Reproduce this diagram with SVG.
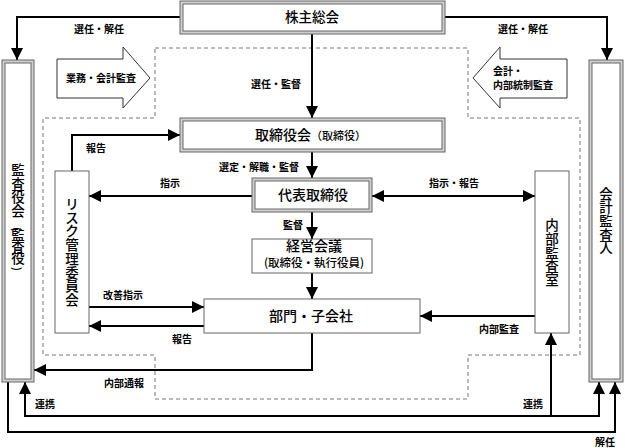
<svg xmlns="http://www.w3.org/2000/svg" width="625" height="448" viewBox="0 0 625 448">
<style>
text{font-family:"Noto Sans CJK JP","Noto Sans",sans-serif;fill:#000}
.lbl{font-size:10px;font-weight:bold}
.main{font-size:13.5px}
.vt{font-size:13.5px;font-weight:500;text-anchor:middle}
.out{fill:#d0d0d0;stroke:#666;stroke-width:1}
.in{fill:#fff;stroke:#666;stroke-width:1}
.box{fill:#fff;stroke:#666;stroke-width:1}
.ln{fill:none;stroke:#000;stroke-width:2}
.dash{fill:none;stroke:#777;stroke-width:1;stroke-dasharray:4 3}
.blk{fill:#fff;stroke:#333;stroke-width:1}
</style>
<defs>
<marker id="ah" viewBox="0 0 12 12" refX="12" refY="6" markerWidth="12" markerHeight="12" markerUnits="userSpaceOnUse" orient="auto-start-reverse">
<path d="M0,0 L12,6 L0,12 Z" fill="#000"/>
</marker>
</defs>

<path id="boundary" class="dash" d="M155,48 H468 V118 H580 V355 H468 V399 H155 V355 H43 V118 H155 Z"/>

<g id="audit-arrow-left">
<polygon class="blk" points="57,59 123,59 123,47 150,78 123,108 123,98 57,98"/>
<text class="lbl" x="101" y="82" text-anchor="middle">業務・会計監査</text>
</g>
<g id="audit-arrow-right">
<polygon class="blk" points="567,59 500,59 500,47 473,78 500,108 500,98 567,98"/>
<text class="lbl"><tspan x="493" y="75">会計・</tspan><tspan x="493" y="89">内部統制監査</tspan></text>
</g>

<g id="connectors">
<path class="ln" d="M180,17 H17 V60" marker-end="url(#ah)"/>
<path class="ln" d="M445,17 H607 V60" marker-end="url(#ah)"/>
<path class="ln" d="M312,34 V118" marker-end="url(#ah)"/>
<path class="ln" d="M312,152 V178" marker-end="url(#ah)"/>
<path class="ln" d="M312,212 V239" marker-end="url(#ah)"/>
<path class="ln" d="M312,273 V299" marker-end="url(#ah)"/>
<path class="ln" d="M252,196 H89" marker-end="url(#ah)"/>
<path class="ln" d="M72,171 V135 H180" marker-end="url(#ah)"/>
<path class="ln" d="M372,196 H535" marker-start="url(#ah)" marker-end="url(#ah)"/>
<path class="ln" d="M89,307 H204" marker-end="url(#ah)"/>
<path class="ln" d="M204,326 H89" marker-end="url(#ah)"/>
<path class="ln" d="M535,316 H420" marker-end="url(#ah)"/>
<path class="ln" d="M312,333 V370 H34" marker-end="url(#ah)"/>
<path class="ln" d="M551,416 H25 V382" marker-end="url(#ah)"/>
<path class="ln" d="M551,416 H599 V382" marker-end="url(#ah)"/>
<path class="ln" d="M551,416 V333" marker-end="url(#ah)"/>
<path class="ln" d="M8,382 V432 H615 V382" marker-end="url(#ah)"/>

<text class="lbl" x="99" y="33" text-anchor="middle">選任・解任</text>
<text class="lbl" x="523" y="33" text-anchor="middle">選任・解任</text>
<text class="lbl" x="276" y="88" text-anchor="middle">選任・監督</text>
<text class="lbl" x="96" y="152" text-anchor="middle">報告</text>
<text class="lbl" x="259" y="171" text-anchor="middle">選定・解職・監督</text>
<text class="lbl" x="170" y="187" text-anchor="middle">指示</text>
<text class="lbl" x="454" y="187" text-anchor="middle">指示・報告</text>
<text class="lbl" x="293" y="229" text-anchor="middle">監督</text>
<text class="lbl" x="123" y="299" text-anchor="middle">改善指示</text>
<text class="lbl" x="182" y="343" text-anchor="middle">報告</text>
<text class="lbl" x="499" y="333" text-anchor="middle">内部監査</text>
<text class="lbl" x="124" y="387" text-anchor="middle">内部通報</text>
<text class="lbl" x="45" y="408" text-anchor="middle">連携</text>
<text class="lbl" x="533" y="408" text-anchor="middle">連携</text>
<text class="lbl" x="605" y="446" text-anchor="middle">解任</text>
</g>

<g id="shareholders">
<rect class="out" x="180" y="1" width="265" height="33"/>
<rect class="in" x="183" y="4" width="259" height="27"/>
<text class="main" x="312" y="22" text-anchor="middle" font-weight="500">株主総会</text>
</g>

<g id="board">
<rect class="out" x="180" y="118" width="265" height="34"/>
<rect class="in" x="183" y="121" width="259" height="28"/>
<text x="255" y="140" font-weight="500"><tspan font-size="14">取締役会</tspan><tspan font-size="11">（取締役）</tspan></text>
</g>

<g id="representative">
<rect class="out" x="252" y="178" width="120" height="34"/>
<rect class="in" x="255" y="181" width="114" height="28"/>
<text x="313" y="200" font-size="14" font-weight="500" text-anchor="middle">代表取締役</text>
</g>

<g id="management-meeting">
<rect class="box" x="252" y="239" width="120" height="34"/>
<text font-weight="500" text-anchor="middle"><tspan x="314" y="251" font-size="14">経営会議</tspan><tspan x="314" y="267" font-size="11.5">(取締役・執行役員)</tspan></text>
</g>

<g id="departments">
<rect class="box" x="204" y="299" width="216" height="34"/>
<text x="311" y="321" font-size="14" font-weight="500" text-anchor="middle">部門・子会社</text>
</g>

<g id="risk-committee">
<rect class="box" x="55" y="171" width="34" height="162"/>
<text class="vt"><tspan x="72" y="209">リ</tspan><tspan x="72" y="222.6">ス</tspan><tspan x="72" y="236.4">ク</tspan><tspan x="72" y="250">管</tspan><tspan x="72" y="263.9">理</tspan><tspan x="72" y="277.6">委</tspan><tspan x="72" y="291.4">員</tspan><tspan x="72" y="305">会</tspan></text>
</g>

<g id="internal-audit">
<rect class="box" x="535" y="171" width="34" height="162"/>
<text class="vt"><tspan x="552" y="230">内</tspan><tspan x="552" y="243.7">部</tspan><tspan x="552" y="257.5">監</tspan><tspan x="552" y="271.3">査</tspan><tspan x="552" y="285">室</tspan></text>
</g>

<g id="auditors-board">
<rect class="out" x="2" y="60" width="32" height="322"/>
<rect class="in" x="5" y="63" width="26" height="316"/>
<text class="vt"><tspan x="18" y="175">監</tspan><tspan x="18" y="188.5">査</tspan><tspan x="18" y="202">役</tspan><tspan x="18" y="215.5">会</tspan></text>
<text font-size="11" font-weight="500" text-anchor="middle" dominant-baseline="central" transform="rotate(90 18 229)" x="18" y="229">(</text>
<text class="vt" font-size="10.5"><tspan x="18" y="240">監</tspan><tspan x="18" y="251.5">査</tspan><tspan x="18" y="263">役</tspan></text>
<text font-size="11" font-weight="500" text-anchor="middle" dominant-baseline="central" transform="rotate(90 18 269)" x="18" y="269">)</text>
</g>

<g id="accounting-auditor">
<rect class="out" x="589" y="60" width="34" height="322"/>
<rect class="in" x="592" y="63" width="28" height="316"/>
<text class="vt"><tspan x="606" y="199">会</tspan><tspan x="606" y="212.4">計</tspan><tspan x="606" y="226">監</tspan><tspan x="606" y="239.6">査</tspan><tspan x="606" y="253">人</tspan></text>
</g>
</svg>
